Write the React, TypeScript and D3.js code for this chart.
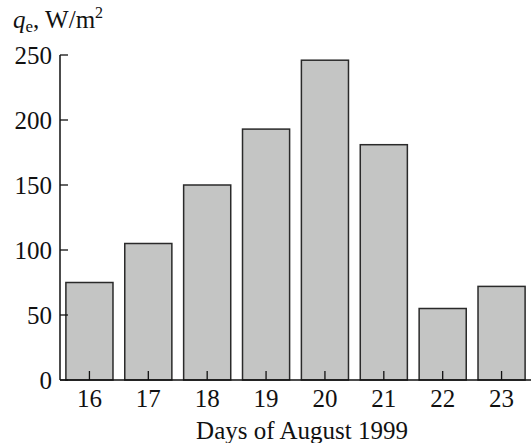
import React from "react";
import * as d3 from "d3";

const days = ["16", "17", "18", "19", "20", "21", "22", "23"];
const heatFlux = [75, 105, 150, 193, 246, 181, 55, 72];
const yTicks = [0, 50, 100, 150, 200, 250];

const W = 531;
const H = 443;
const left = 60;
const right = 531;
const top = 55;
const bottom = 380;
const font = "'Liberation Serif', 'Times New Roman', serif";
const fs = 25;

export default function App() {
  const x = d3.scaleBand<string>().domain(days).range([left, right]).paddingInner(0.2).paddingOuter(0.1);
  const y = d3.scaleLinear().domain([0, 250]).range([bottom, top]);

  return (
    <svg width={W} height={H} style={{ position: "absolute", left: 0, top: 0 }}>
      <rect width={W} height={H} fill="#fff" />
      {days.map((d, i) => (
        <rect
          key={d}
          x={x(d)!}
          y={y(heatFlux[i])}
          width={x.bandwidth()}
          height={y(0) - y(heatFlux[i])}
          fill="#c4c5c4"
          stroke="#2a2a2a"
          strokeWidth={1.5}
        />
      ))}
      {/* axes */}
      <line x1={left} y1={bottom} x2={right} y2={bottom} stroke="#111" strokeWidth={1.5} />
      <line x1={left} y1={bottom} x2={left} y2={top} stroke="#111" strokeWidth={1.5} />
      {yTicks.map((t) => (
        <g key={t}>
          <line x1={left} x2={left + 8} y1={y(t)} y2={y(t)} stroke="#111" strokeWidth={1.3} />
          <text x={left - 8} y={y(t) + 9} textAnchor="end" fontFamily={font} fontSize={fs} fill="#111">
            {t}
          </text>
        </g>
      ))}
      {days.map((d) => {
        const cx = x(d)! + x.bandwidth() / 2;
        return (
          <g key={d}>
            <line x1={cx} x2={cx} y1={bottom} y2={bottom - 9} stroke="#111" strokeWidth={1.3} />
            <text x={cx} y={407} textAnchor="middle" fontFamily={font} fontSize={fs} fill="#111">
              {d}
            </text>
          </g>
        );
      })}
      <text x={302} y={439} textAnchor="middle" fontFamily={font} fontSize={fs} fill="#111">
        Days of August 1999
      </text>
      <text x={13} y={28} fontFamily={font} fontSize={fs} fill="#111">
        <tspan fontStyle="italic">q</tspan>
        <tspan fontSize={17} dy={4}>e</tspan>
        <tspan dy={-4}>, W/m</tspan>
        <tspan fontSize={16} dy={-10}>2</tspan>
      </text>
    </svg>
  );
}
